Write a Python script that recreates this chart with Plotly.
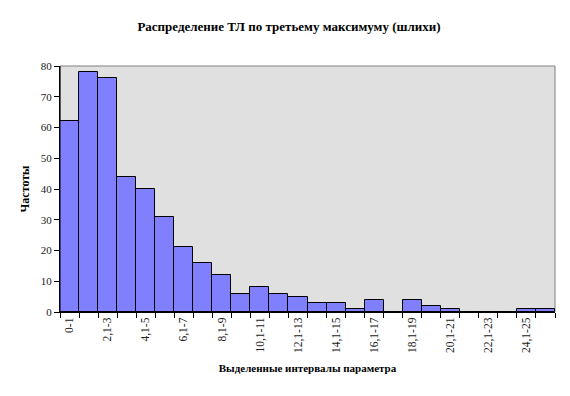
import plotly.graph_objects as go

categories = ["0-1", "1,1-2", "2,1-3", "3,1-4", "4,1-5", "5,1-6", "6,1-7", "7,1-8",
              "8,1-9", "9,1-10", "10,1-11", "11,1-12", "12,1-13", "13,1-14", "14,1-15",
              "15,1-16", "16,1-17", "17,1-18", "18,1-19", "19,1-20", "20,1-21",
              "21,1-22", "22,1-23", "23,1-24", "24,1-25", "25,1-26"]
values = [62, 78, 76, 44, 40, 31, 21, 16, 12, 6, 8, 6, 5, 3, 3, 1, 4, 0, 4, 2, 1, 0, 0, 0, 1, 1]
tick_labels = [c if i % 2 == 0 else "" for i, c in enumerate(categories)]

title = "Распределение ТЛ по третьему максимуму (шлихи)"
x_title = "Выделенные интервалы параметра"
y_title = "Частоты"

font = "Liberation Serif, Times New Roman, serif"
W, H = 562, 388

fig = go.Figure(go.Bar(
    x=categories, y=values,
    marker=dict(color="#8080FF", line=dict(color="black", width=1)),
    width=1.0,
))

fig.update_layout(
    width=W, height=H,
    paper_bgcolor="white", plot_bgcolor="#E0E0E0",
    margin=dict(l=52, r=15, t=58, b=84),
    bargap=0,
    showlegend=False,
    font=dict(family=font, size=11, color="black"),
    title=dict(text="<b>" + title + "</b>", x=0.5, xanchor="center",
               y=1 - 18 / H, yanchor="middle", font=dict(size=13, family=font)),
)
fig.update_xaxes(
    type="category", tickson="boundaries",
    tickmode="array", tickvals=categories, ticktext=tick_labels,
    tickangle=-90, ticks="outside", ticklen=5, tickcolor="black",
    showline=True, linecolor="black", linewidth=1,
    showgrid=False, zeroline=False, automargin=False,
    title=dict(text="<b>" + x_title + "</b>", font=dict(size=11), standoff=12),
    tickfont=dict(size=11.5, color="#222222"),
)
fig.update_yaxes(
    range=[0, 80], dtick=10, ticks="outside", ticklen=5, tickcolor="black",
    showline=True, linecolor="black", linewidth=1,
    showgrid=False, zeroline=False, automargin=False,
    title=dict(text="<b>" + y_title + "</b>", font=dict(size=12), standoff=8),
    tickfont=dict(size=11, color="#222222"),
)
fig.add_shape(type="rect", xref="x domain", yref="y domain", x0=0, x1=1, y0=0, y1=1,
              line=dict(color="#808080", width=1), layer="below")
fig.add_shape(type="line", xref="x domain", yref="y domain", x0=0, x1=0, y0=0, y1=1,
              line=dict(color="black", width=1))

fig.write_html("out.html")
